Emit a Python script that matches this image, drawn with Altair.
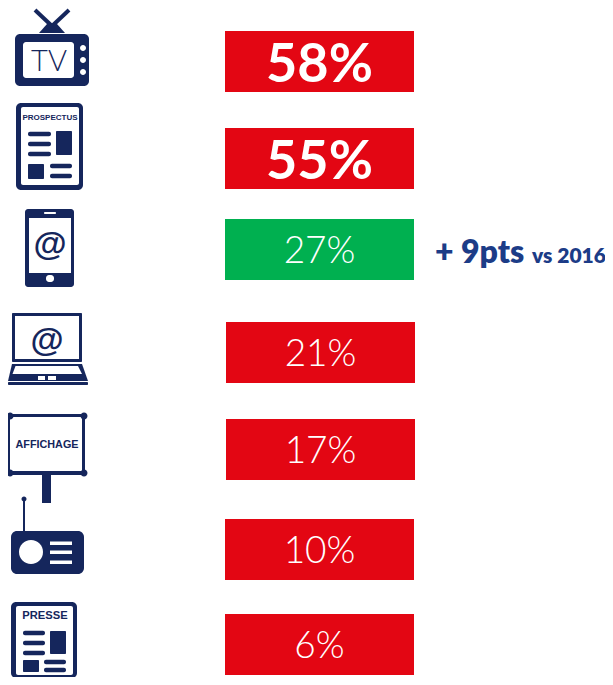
import altair as alt
import pandas as pd

# ---- values and labels
labels = ["58%", "55%", "27%", "21%", "17%", "10%", "6%"]
channels = ["TV", "Prospectus", "Mobile", "Ordinateur", "Affichage", "Radio", "Presse"]
bar_state = ["red", "red", "green", "red", "red", "red", "red"]
emphasis = ["bold", "bold", "light", "light", "light", "light", "light"]
bar_left = [225, 225, 225, 226, 226, 225, 225]
bar_top = [31, 128, 219, 322, 419, 519, 614]
BAR_W = 189
BAR_H = 61
NAVY = "#15265c"
WHITE = "#ffffff"
BLUE = "#1c3c87"
state_colors = {"red": "#e30613", "green": "#00b050"}
K = 0.5523


def rrect(x, y, w, h, r=0.0):
    x2, y2 = x + w, y + h
    if r <= 0:
        return f"M{x} {y} L{x2} {y} L{x2} {y2} L{x} {y2} Z"
    c = r * (1 - K)
    return (
        f"M{x + r} {y} L{x2 - r} {y} C{x2 - c} {y} {x2} {y + c} {x2} {y + r} "
        f"L{x2} {y2 - r} C{x2} {y2 - c} {x2 - c} {y2} {x2 - r} {y2} "
        f"L{x + r} {y2} C{x + c} {y2} {x} {y2 - c} {x} {y2 - r} "
        f"L{x} {y + r} C{x} {y + c} {x + c} {y} {x + r} {y} Z"
    )


def circle(cx, cy, r):
    return rrect(cx - r, cy - r, 2 * r, 2 * r, r)


def poly(*pts):
    return "M" + " L".join(f"{x} {y}" for x, y in pts) + " Z"


def stroke(x1, y1, x2, y2, w):
    dx, dy = x2 - x1, y2 - y1
    n = (dx * dx + dy * dy) ** 0.5
    ox, oy = -dy / n * w / 2, dx / n * w / 2
    return poly((round(x1 + ox, 2), round(y1 + oy, 2)), (round(x2 + ox, 2), round(y2 + oy, 2)),
                (round(x2 - ox, 2), round(y2 - oy, 2)), (round(x1 - ox, 2), round(y1 - oy, 2)))


def leaflet(ox, oy, ox2, oy2, ix, iy, ix2, iy2, lx, ly, bx, by, sy, rx, ry):
    return [
        (NAVY, rrect(ox, oy, ox2 - ox, oy2 - oy, 5)),
        (WHITE, rrect(ix, iy, ix2 - ix, iy2 - iy, 2)),
        (NAVY, rrect(lx[0], ly[0] - 2.25, lx[1] - lx[0], 4.5, 2)),
        (NAVY, rrect(lx[0], ly[1] - 2.25, lx[1] - lx[0], 4.5, 2)),
        (NAVY, rrect(lx[0], ly[2] - 2.25, lx[1] - lx[0], 4.5, 2)),
        (NAVY, rrect(bx[0], by[0], bx[1] - bx[0], by[1] - by[0], 1)),
        (NAVY, rrect(lx[0], sy[0], bx[1] - bx[0], sy[1] - sy[0], 1)),
        (NAVY, rrect(rx[0], ry[0] - 2.25, rx[1] - rx[0], 4.5, 2)),
        (NAVY, rrect(rx[0], ry[1] - 2.25, rx[1] - rx[0], 4.5, 2)),
    ]


# ---- pictograms, one list of shapes per channel
icons = {
    "TV": [
        (NAVY, stroke(35, 10, 53, 27, 4)),
        (NAVY, stroke(69, 10, 51, 27, 4)),
        (NAVY, poly((47, 24), (57, 24), (65, 33), (39, 33))),
        (NAVY, rrect(15, 34, 74, 52, 5)),
        (WHITE, rrect(23, 42, 51, 36, 3)),
        (WHITE, circle(83, 48, 3)),
        (WHITE, circle(83, 60, 3)),
        (WHITE, circle(83, 72, 3)),
    ],
    "Prospectus": leaflet(16, 103, 83, 190, 21, 107, 79, 185, (28, 51), (134, 144, 154),
                          (56, 72), (131, 155), (164, 179), (50, 72), (166, 176)),
    "Mobile": [
        (NAVY, rrect(25, 209, 49, 78, 3)),
        (WHITE, rrect(29, 218, 42, 55)),
        (WHITE, rrect(44, 212, 12, 2, 1)),
        (WHITE, rrect(46, 275, 8, 7, 3)),
    ],
    "Ordinateur": [
        (NAVY, rrect(12, 313, 70, 49, 1)),
        (WHITE, rrect(15, 316, 64, 43)),
        (NAVY, poly((12, 364), (82, 364), (88, 381), (8, 381))),
        (NAVY, rrect(8, 382, 80, 3, 1)),
        (WHITE, poly((15.5, 366), (78, 366), (82, 374), (12.5, 374))),
        (WHITE, rrect(38, 376, 7, 4)),
        (WHITE, rrect(48, 376, 8, 4)),
    ],
    "Affichage": [
        (NAVY, rrect(42, 474, 9, 29)),
        (NAVY, rrect(8, 414, 77, 61)),
        (WHITE, rrect(10, 417, 72, 54)),
        (NAVY, circle(10, 416, 3.5)),
        (NAVY, circle(84, 416, 3.5)),
        (NAVY, circle(10, 473, 3.5)),
        (NAVY, circle(84, 473, 3.5)),
    ],
    "Radio": [
        (NAVY, circle(24, 499, 2.5)),
        (NAVY, rrect(23, 499, 2, 33)),
        (NAVY, rrect(11, 531, 73, 43, 6)),
        (WHITE, circle(31, 552, 12)),
        (WHITE, rrect(50, 541.5, 22, 3.5)),
        (WHITE, rrect(50, 550.5, 22, 3.5)),
        (WHITE, rrect(50, 560.5, 22, 3.5)),
    ],
    "Presse": leaflet(11, 602, 77, 678, 16, 606, 73, 675, (23, 45), (633, 643, 653),
                      (50, 66), (631, 654), (660, 672), (44, 66), (662, 670)),
}

# ---- small texts inside the pictograms: text, x, y, size
icon_light = [("TV", 49, 62, 29)]
icon_bold = [
    ("PROSPECTUS", 50, 118, 8),
    ("@", 50, 245, 34),
    ("@", 47, 341, 34),
    ("AFFICHAGE", 47, 445, 10.8),
    ("PRESSE", 45, 616, 11.2),
]

x_scale = alt.Scale(domain=[8, 605], range=[0, 597], nice=False, zero=False, padding=0)
y_scale = alt.Scale(domain=[8, 677], range=[0, 669], nice=False, zero=False, padding=0)
X = lambda f: alt.X(f, type="quantitative", scale=x_scale, axis=None)
Y = lambda f: alt.Y(f, type="quantitative", scale=y_scale, axis=None)

bars = pd.DataFrame({
    "channel": channels,
    "label": labels,
    "left": bar_left,
    "right": [v + BAR_W for v in bar_left],
    "top": bar_top,
    "bottom": [v + BAR_H for v in bar_top],
    "mid": [v + BAR_W / 2 for v in bar_left],
    "centre": [v + BAR_H / 2 for v in bar_top],
    "fill": [state_colors[s] for s in bar_state],
    "emphasis": emphasis,
})

rows = []
for name, parts in icons.items():
    for col, path in parts:
        rows.append({"channel": name, "color": col, "path": path, "ox": 0, "oy": 0})
icon_df = pd.DataFrame(rows)
icon_df["seq"] = range(len(icon_df))

bar_layer = alt.Chart(bars).mark_rect().encode(
    x=X("left"), x2="right", y=Y("top"), y2="bottom",
    color=alt.Color("fill:N", scale=None),
)

# Each symbol is anchored on the origin of the reference frame's coordinates,
# so that size 4 draws the path at 1:1.
icon_layer = alt.Chart(icon_df).mark_point(filled=True, size=4, opacity=1, strokeWidth=0).encode(
    x=X("ox"), y=Y("oy"),
    shape=alt.Shape("path:N", scale=None),
    color=alt.Color("color:N", scale=None),
    order=alt.Order("seq:Q"),
)


def pct_layer(kind, size, weight, dy):
    return alt.Chart(bars[bars["emphasis"] == kind]).mark_text(
        font="Lato", fontSize=size, fontWeight=weight, color="#ffffff",
        align="center", baseline="middle", dy=dy,
    ).encode(x=X("mid"), y=Y("centre"), text="label:N")


def small_text(items, weight, font):
    df = pd.DataFrame(items, columns=["t", "x", "y", "s"])
    return alt.Chart(df).mark_text(
        font=font, fontWeight=weight, color=NAVY, align="center", baseline="middle",
    ).encode(x=X("x"), y=Y("y"), text="t:N", size=alt.Size("s:Q", scale=None))


note = pd.DataFrame({"t": ["+ 9pts", "vs 2016"], "x": [435, 532], "y": [263, 263], "s": [32, 21]})
note_layer = alt.Chart(note).mark_text(
    font="Lato", fontWeight=800, color=BLUE, align="left", baseline="alphabetic",
).encode(x=X("x"), y=Y("y"), text="t:N", size=alt.Size("s:Q", scale=None))

chart = alt.layer(
    bar_layer,
    icon_layer,
    pct_layer("bold", 54, 700, 4),
    pct_layer("light", 37, 300, 2),
    small_text(icon_light, 300, "Lato"),
    small_text(icon_bold, 700, "Liberation Sans"),
    note_layer,
).properties(
    width=597, height=669, padding=0,
    autosize=alt.AutoSizeParams(type="none"),
    background="#ffffff",
).configure_view(stroke=None)

chart.save("out.html", embed_options={"renderer": "svg", "actions": False})
